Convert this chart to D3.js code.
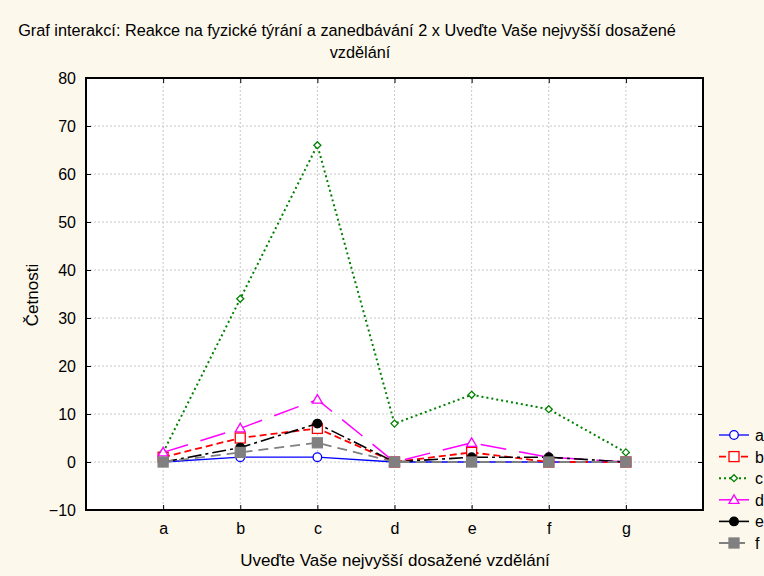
<!DOCTYPE html>
<html><head><meta charset="utf-8">
<script src="https://cdn.jsdelivr.net/npm/d3@7"></script>
<style>
html,body{margin:0;padding:0;background:#fdf8ec;}
text{font-family:"Liberation Sans",Arial,sans-serif;fill:#000;}
</style></head><body>
<svg id="chart" width="764" height="576"></svg>
<script>
const categories = ["a","b","c","d","e","f","g"];
const seriesNames = ["a","b","c","d","e","f"];
const serA = [0,1,1,0,0,0,0];
const serB = [1,5,7,0,2,0,0];
const serC = [2,34,66,8,14,11,2];
const serD = [2,7,13,0,4,1,0];
const serE = [0,3,8,0,1,1,0];
const serF = [0,2,4,0,0,0,0];
const yTicks = [-10,0,10,20,30,40,50,60,70,80];
const title1 = "Graf interakcí: Reakce na fyzické týrání a zanedbávání 2 x Uveďte Vaše nejvyšší dosažené";
const title2 = "vzdělání";
const xTitle = "Uveďte Vaše nejvyšší dosažené vzdělání";
const yTitle = "Četnosti";

const styles = [
  {color:"#0000ff", dash:null, marker:"circle", fill:"#fff", width:1.3},
  {color:"#ff0000", dash:"7,4", marker:"square", fill:"#fff", width:1.8},
  {color:"#008000", dash:"2,3", marker:"diamond", fill:"#fff", width:2},
  {color:"#ff00ff", dash:"26,13", marker:"triangle", fill:"#fff", width:1.5},
  {color:"#000000", dash:"14,4,3,4", marker:"circle", fill:"#000", width:1.6},
  {color:"#808080", dash:"10,6", marker:"square", fill:"#808080", width:1.8}
];
const data = [serA,serB,serC,serD,serE,serF];

const svg = d3.select("#chart");
const L=86, R=703, T=78, B=510;
const x = d3.scaleLinear().domain([0,categories.length+1]).range([L,R]);
const y = d3.scaleLinear().domain([-10,80]).range([B,T]);

svg.append("rect").attr("x",L).attr("y",T).attr("width",R-L).attr("height",B-T).attr("fill","#fff");

// grid
const grid = svg.append("g");
grid.selectAll(".hg").data(yTicks.filter(v=>v>-10&&v<80)).enter().append("line")
  .attr("x1",L).attr("x2",R).attr("y1",d=>y(d)).attr("y2",d=>y(d))
  .attr("stroke","#c8c8c8").attr("stroke-dasharray","2,2");
grid.selectAll(".vg").data(categories).enter().append("line")
  .attr("x1",(d,i)=>x(i+1)).attr("x2",(d,i)=>x(i+1)).attr("y1",T).attr("y2",B)
  .attr("stroke","#c8c8c8").attr("stroke-dasharray","2,2");

// axes
const yAxis = d3.axisLeft(y).tickValues(yTicks).tickSize(-5).tickPadding(10);
const gy = svg.append("g").attr("transform",`translate(${L},0)`).call(yAxis);
gy.select(".domain").remove();
gy.selectAll("text").style("font-size","16px").attr("font-family","Liberation Sans, Arial, sans-serif");
const gyr = svg.append("g").attr("transform",`translate(${R},0)`).call(d3.axisRight(y).tickValues(yTicks).tickSize(-5).tickFormat(""));
gyr.select(".domain").remove();

const xAxis = d3.axisBottom(x).tickValues(categories.map((c,i)=>i+1)).tickFormat((d)=>categories[d-1]).tickSize(-5).tickPadding(13);
const gx = svg.append("g").attr("transform",`translate(0,${B})`).call(xAxis);
gx.select(".domain").remove();
gx.selectAll("text").style("font-size","16px").attr("font-family","Liberation Sans, Arial, sans-serif");
const gxt = svg.append("g").attr("transform",`translate(0,${T})`).call(d3.axisTop(x).tickValues(categories.map((c,i)=>i+1)).tickSize(-5).tickFormat(""));
gxt.select(".domain").remove();

svg.append("rect").attr("x",L).attr("y",T).attr("width",R-L).attr("height",B-T)
  .attr("fill","none").attr("stroke","#000").attr("stroke-width",2);

// lines
const line = d3.line().x((d,i)=>x(i+1)).y(d=>y(d));
function drawMarker(g, type, cx, cy, st){
  if(type==="circle"){
    g.append("circle").attr("cx",cx).attr("cy",cy).attr("r",4.3).attr("fill",st.fill).attr("stroke",st.color).attr("stroke-width",1.3);
  } else if(type==="square"){
    g.append("rect").attr("x",cx-5).attr("y",cy-5).attr("width",10).attr("height",10).attr("fill",st.fill).attr("stroke",st.color).attr("stroke-width",1.3);
  } else if(type==="diamond"){
    g.append("path").attr("d",`M${cx},${cy-3.5}L${cx+3.5},${cy}L${cx},${cy+3.5}L${cx-3.5},${cy}Z`).attr("fill",st.fill).attr("stroke",st.color).attr("stroke-width",1.3);
  } else if(type==="triangle"){
    g.append("path").attr("d",`M${cx},${cy-5}L${cx+5},${cy+3.5}L${cx-5},${cy+3.5}Z`).attr("fill",st.fill).attr("stroke",st.color).attr("stroke-width",1.3);
  }
}
data.forEach((ser,k)=>{
  const st=styles[k];
  svg.append("path").datum(ser).attr("d",line).attr("fill","none")
    .attr("stroke",st.color).attr("stroke-width",st.width)
    .attr("stroke-dasharray",st.dash);
  const g=svg.append("g");
  ser.forEach((v,i)=>drawMarker(g,st.marker,x(i+1),y(v),st));
});

// legend
const lg = svg.append("g");
seriesNames.forEach((n,k)=>{
  const st=styles[k];
  const yy = 435 + k*21.6;
  lg.append("line").attr("x1",719).attr("x2",749).attr("y1",yy).attr("y2",yy)
    .attr("stroke",st.color).attr("stroke-width",st.width)
    .attr("stroke-dasharray", k===2?"2,3":(k===1?"7,4":(k===5?"10,6":null)));
  drawMarker(lg, st.marker, 734, yy, st);
  lg.append("text").attr("x",755).attr("y",yy+6).style("font-size","16px").text(n);
});

// titles
svg.append("text").attr("x",347).attr("y",36).attr("text-anchor","middle").style("font-size","16.3px").text(title1);
svg.append("text").attr("x",360).attr("y",58).attr("text-anchor","middle").style("font-size","16.3px").text(title2);
svg.append("text").attr("x",395).attr("y",566).attr("text-anchor","middle").style("font-size","17px").text(xTitle);
svg.append("text").attr("transform","translate(38,295) rotate(-90)").attr("text-anchor","middle").style("font-size","17px").text(yTitle);
</script>
</body></html>
